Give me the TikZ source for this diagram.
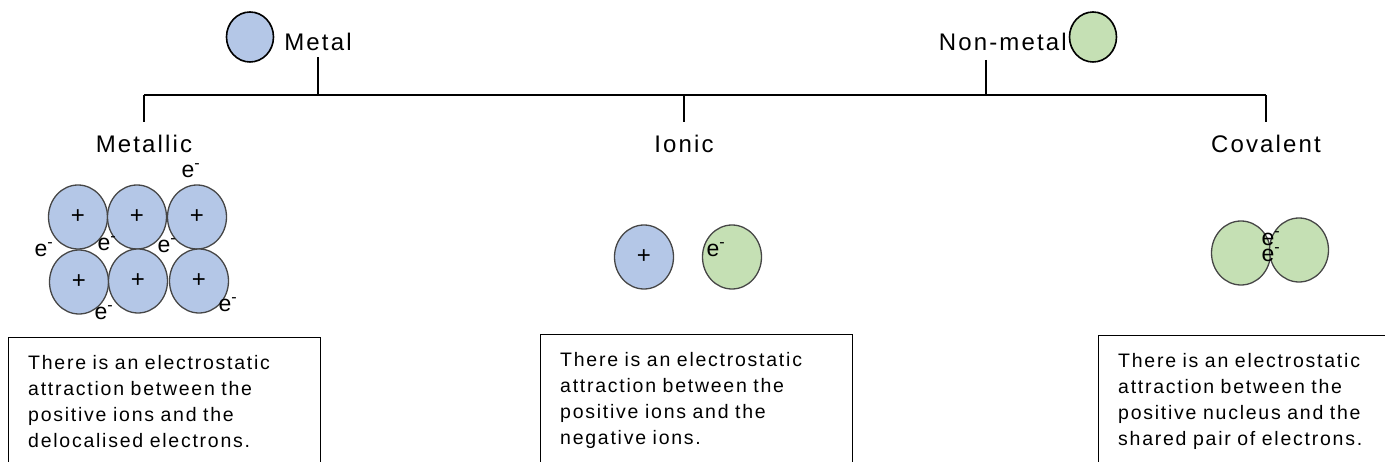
\documentclass[tikz,border=0pt]{standalone}
\usepackage{fontspec}
\setmainfont{Liberation Sans}[LetterSpace=9]
\usetikzlibrary{positioning, shapes.geometric}
\definecolor{metblue}{RGB}{180,199,231}
\definecolor{nmgreen}{RGB}{197,224,180}
\definecolor{rimgrey}{RGB}{70,70,70}

\begin{document}
\begin{tikzpicture}[x=1pt,y=-1pt,
  tree/.style={line width=2pt},
  key/.style={ellipse,draw=black,line width=1.6pt,minimum width=47pt,minimum height=50pt,inner sep=0pt},
  atom/.style={ellipse,draw=rimgrey,line width=1.3pt,minimum width=59pt,minimum height=64pt,inner sep=0pt,font=\fontsize{24}{24}\selectfont},
  elec/.style={inner sep=0pt,font=\fontsize{23}{16}\selectfont},
  head/.style={font=\fontsize{24}{24}\selectfont,inner sep=0pt},
  kind/.style={font=\fontsize{24}{24}\selectfont,anchor=north,inner xsep=0pt,inner ysep=13pt},
  note/.style={anchor=north west,align=left,inner xsep=20pt,inner ysep=17pt,
    font=\fontsize{19.5}{26}\selectfont}]
  \useasboundingbox (0,0) rectangle (1385,462);
  \coordinate (bot) at (0,462);
  % key at the top
  \node[key,fill=metblue] (metalkey) at (250,37) {};
  \node[head] (metal) at (318,42) {Metal};
  \node[key,fill=nmgreen] (nmkey) at (1093,37) {};
  \node[head,anchor=east] (nonmetal) at (1067,42) {Non-metal};
  % bar and drops
  \coordinate (bar) at (142,95);
  \node[kind] (metallic) at (144,122) {Metallic};
  \node[kind] (ionic) at (684,122) {Ionic};
  \node[kind] (covalent) at (1266,122) {Covalent};
  \draw[tree] (metallic.north |- bar) -- (covalent.north |- bar);
  \draw[tree] (metal.south) ++(0,6) -- (metal |- bar);
  \draw[tree] (986,60) -- (986,95);
  \draw[tree] (metallic.north |- bar) -- (metallic.north);
  \draw[tree] (ionic.north |- bar) -- (ionic.north);
  \draw[tree] (covalent.north |- bar) -- (covalent.north);
  % metallic lattice
  \node[atom,fill=metblue] (m1) at (78,217) {+};
  \node[atom,fill=metblue] (m2) at (137,217) {+};
  \node[atom,fill=metblue] (m3) at (197,217) {+};
  \node[atom,fill=metblue] (m4) at (79,282) {+};
  \node[atom,fill=metblue] (m5) at (138,281) {+};
  \node[atom,fill=metblue] (m6) at (199,281) {+};
  \node[elec] (e1) at (191,171) {e\textsuperscript{-}};
  \node[elec] (e2) at (44,250) {e\textsuperscript{-}};
  \node[elec] (e3) at (107,244) {e\textsuperscript{-}};
  \node[elec] (e4) at (167,246) {e\textsuperscript{-}};
  \node[elec] (e5) at (104,313) {e\textsuperscript{-}};
  \node[elec] (e6) at (228,305) {e\textsuperscript{-}};
  % ionic pair
  \node[atom,fill=metblue] (cat) at (644,257) {+};
  \node[atom,fill=nmgreen] (an) at (732,257) {};
  \node[elec] (e7) at (716,250) {e\textsuperscript{-}};
  % covalent pair, shared electrons
  \node[atom,fill=nmgreen] (cl) at (1241,253) {};
  \node[atom,fill=nmgreen] (cr) at (1299,250) {};
  \node[elec,align=center] (pair) at (1271,247) {e\textsuperscript{-}\\e\textsuperscript{-}};
  % notes
  \node[note,text width=272pt] (metnote) at (8,338) {There is an electrostatic\\attraction between the\\positive ions and the\\delocalised electrons.};
  \node[note,text width=272pt] (ionnote) at (540,335) {There is an electrostatic\\attraction between the\\positive ions and the\\negative ions.};
  \node[note,text width=270pt] (covnote) at (1098,336) {There is an electrostatic\\attraction between the\\positive nucleus and the\\shared pair of electrons.};
  \draw[line width=1pt] (metnote.north west |- bot) -- (metnote.north west) -- (metnote.north east) -- (metnote.north east |- bot);
  \draw[line width=1pt] (ionnote.north west |- bot) -- (ionnote.north west) -- (ionnote.north east) -- (ionnote.north east |- bot);
  \draw[line width=1pt] (covnote.north west |- bot) -- (covnote.north west) -- (covnote.north east);
\end{tikzpicture}
\end{document}
